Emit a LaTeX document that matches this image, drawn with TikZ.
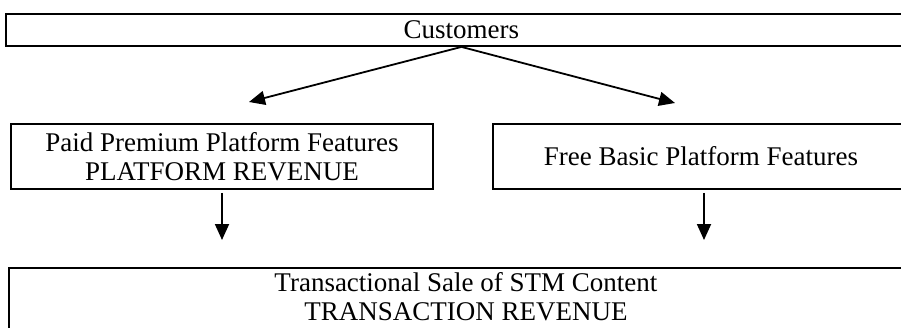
\documentclass[tikz,border=0pt]{standalone}
\usepackage{fontspec}
\setmainfont{Liberation Serif}
\usetikzlibrary{arrows.meta}
\begin{document}
\begin{tikzpicture}[x=1pt,y=-1pt,
  box/.style={draw, line width=1.9pt, inner sep=0pt, align=center,
    font=\fontsize{27}{29.5}\selectfont, anchor=north west},
  arr/.style={line width=1.8pt, -{Triangle[length=16pt,width=14pt]}}]
\clip (0,0) rectangle (901,327);
% boxes
\node[box, minimum width=911pt, minimum height=32pt] (cust) at (5,13) {Customers};
\node[box, minimum width=422pt, minimum height=65pt] (paid) at (10,123)
  {Paid Premium Platform Features\\PLATFORM REVENUE};
\node[box, minimum width=416pt, minimum height=65pt] (free) at (492,123)
  {Free Basic Platform Features};
\node[box, minimum width=914pt, minimum height=62.5pt, text depth=5pt] (sale) at (8,267)
  {Transactional Sale of STM Content\\TRANSACTION REVENUE};
% arrow ends
\coordinate (pT) at (249,102);
\coordinate (fT) at (675,103);
\coordinate (pE) at (222,240);
\coordinate (fE) at (704,240);
% connectors
\draw[arr] (cust.south) -- (pT);
\draw[arr] (cust.south) -- (fT);
\draw[arr] ([yshift=-3pt]pE |- paid.south) -- (pE);
\draw[arr] ([yshift=-3pt]fE |- free.south) -- (fE);
\end{tikzpicture}
\end{document}
